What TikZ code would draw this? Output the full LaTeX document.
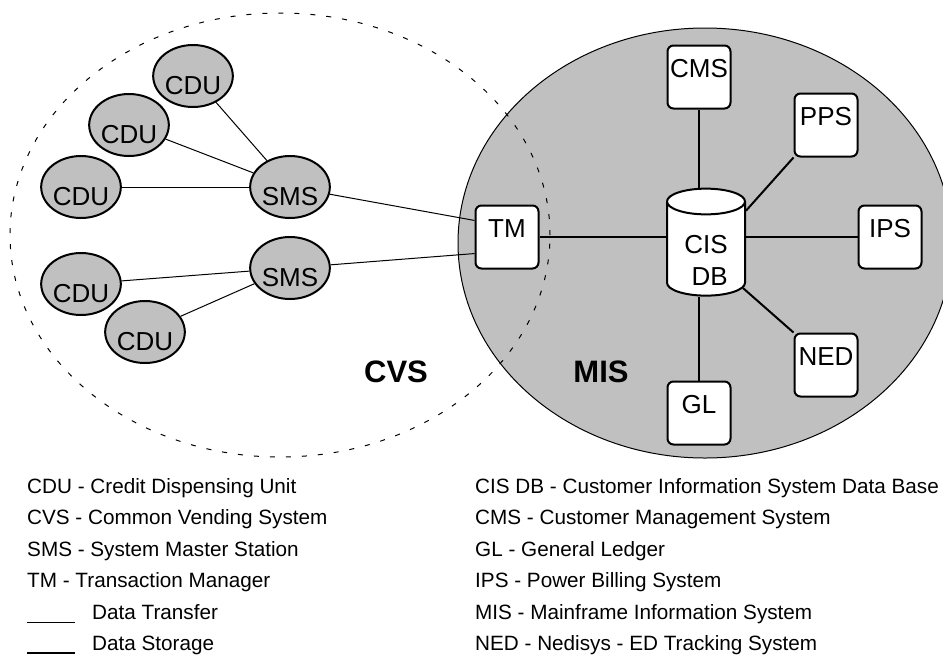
\documentclass[tikz,border=0pt]{standalone}
\usepackage{fontspec}
\setmainfont{Liberation Sans}
\usetikzlibrary{shapes.geometric}
\definecolor{misgray}{HTML}{C0C0C0}

\begin{document}
\begin{tikzpicture}[x=1pt, y=-1pt,
  unit/.style={ellipse, draw, line width=2pt, fill=misgray, minimum width=77pt, minimum height=62pt,
    inner sep=0pt, font=\fontsize{26}{26}\selectfont, text height=36pt, text depth=0pt},
  sys/.style={rectangle, rounded corners=6pt, draw, line width=2pt, fill=white, minimum size=63pt,
    inner sep=0pt, font=\fontsize{26}{26}\selectfont, text height=19pt, text depth=19pt},
  db/.style={cylinder, shape border rotate=90, aspect=0.33, draw, line width=2pt, fill=white,
    inner xsep=39pt, inner ysep=0pt, minimum height=107pt},
  link/.style={line width=1pt},
  store/.style={line width=2pt},
  legend/.style={anchor=base west, inner sep=0pt, font=\fontsize{20.7}{20.7}\selectfont}]

\useasboundingbox (0,0) rectangle (943,657);

\filldraw[fill=misgray, line width=1pt] (705,243) ellipse [x radius=247pt, y radius=215pt];
\draw[line width=1pt, dash pattern=on 5pt off 11pt] (280,235) ellipse [x radius=270pt, y radius=222pt];

\node[unit] (cdu1) at (193,76) {CDU};
\node[unit] (cdu2) at (129,125) {CDU};
\node[unit] (cdu3) at (81,187) {CDU};
\node[unit] (cdu4) at (81,284) {CDU};
\node[unit] (cdu5) at (145,332) {CDU};
\node[unit] (sms1) at (290,187) {SMS};
\node[unit] (sms2) at (290,268) {SMS};

\node[sys] (tm) at (507,237) {TM};
\node[db, label={[align=center, font=\fontsize{26}{32}\selectfont, yshift=-4.5pt]center:CIS\\\ DB}] (cis) at (706,255.5) {};
\node[sys] (cms) at (699,77) {CMS};
\node[sys] (pps) at (826,125) {PPS};
\node[sys] (ips) at (890,237) {IPS};
\node[sys] (ned) at (826,365) {NED};
\node[sys] (gl) at (699,413) {GL};

\draw[link] (cdu1) -- (sms1);
\draw[link] (cdu2) -- (sms1);
\draw[link] (cdu3) -- (sms1);
\draw[link] (cdu4) -- (sms2);
\draw[link] (cdu5) -- (sms2);
\draw[link] (sms1) -- (tm.153);
\draw[link] (sms2) -- (tm.207);

\draw[store] (tm.east) -- (tm.east -| cis.west);
\draw[store] (cis.east |- ips.west) -- (ips.west);
\draw[store] (cms.south) -- (cms.south |- cis.north);
\draw[store] (gl.north) -- (gl.north |- cis.south);
\draw[store] (cis) -- (pps.south west);
\draw[store] (cis) -- (ned.north west);

\node[anchor=base, font=\fontsize{31}{31}\selectfont\bfseries] (cvs) at (396,382) {CVS};
\node[anchor=base, font=\fontsize{31}{31}\selectfont\bfseries] (mis) at (601,382) {MIS};

\node[legend] (cdukey) at (27,493) {CDU - Credit Dispensing Unit};
\node[legend] (cvskey) at (27,524.5) {CVS - Common Vending System};
\node[legend] (smskey) at (27,556) {SMS - System Master Station};
\node[legend] (tmkey) at (27,587.5) {TM - Transaction Manager};
\node[legend] (transferkey) at (92,619) {Data Transfer};
\node[legend] (storagekey) at (92,650.5) {Data Storage};
\draw[link] (27,622) -- (75,622);
\draw[store] (27,653) -- (75,653);

\node[legend] (ciskey) at (475,493) {CIS DB - Customer Information System Data Base};
\node[legend] (cmskey) at (475,524.5) {CMS - Customer Management System};
\node[legend] (glkey) at (475,556) {GL - General Ledger};
\node[legend] (ipskey) at (475,587.5) {IPS - Power Billing System};
\node[legend] (miskey) at (475,619) {MIS - Mainframe Information System};
\node[legend] (nedkey) at (475,650.5) {NED - Nedisys - ED Tracking System};

\end{tikzpicture}
\end{document}
